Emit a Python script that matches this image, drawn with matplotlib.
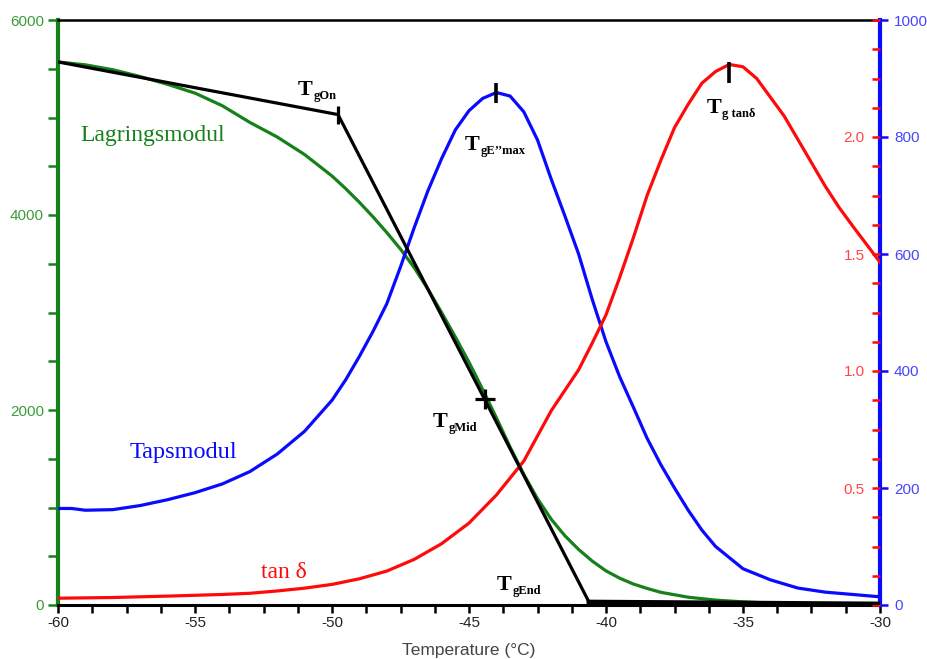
import matplotlib.pyplot as plt
from matplotlib.ticker import MultipleLocator

plt.rcParams['axes.unicode_minus'] = False

# --- data ---
temp_storage = [-60, -59, -58, -57, -56, -55, -54, -53, -52, -51, -50, -49.5, -49,
                -48.5, -48, -47.5, -47, -46.5, -46, -45.5, -45, -44.5, -44, -43.5,
                -43, -42.5, -42, -41.5, -41, -40.5, -40, -39.5, -39, -38.5, -38,
                -37, -36, -35, -34, -33, -32, -31, -30]
storage_mod = [5570, 5540, 5490, 5420, 5340, 5250, 5120, 4950, 4800, 4620, 4400,
               4270, 4130, 3980, 3820, 3650, 3460, 3240, 3000, 2750, 2490, 2210,
               1920, 1620, 1340, 1090, 880, 710, 570, 450, 350, 275, 215, 170,
               130, 80, 50, 32, 20, 12, 8, 5, 3]

temp_loss = [-60, -59.5, -59, -58, -57, -56, -55, -54, -53, -52, -51, -50, -49.5,
             -49, -48.5, -48, -47.5, -47, -46.5, -46, -45.5, -45, -44.5, -44,
             -43.5, -43, -42.5, -42, -41.5, -41, -40.5, -40, -39.5, -39, -38.5,
             -38, -37.5, -37, -36.5, -36, -35, -34, -33, -32, -31, -30]
loss_mod = [165, 165, 162, 163, 170, 180, 192, 207, 228, 258, 297, 350, 385,
            425, 468, 515, 578, 645, 708, 763, 812, 845, 866, 876,
            870, 843, 795, 728, 665, 600, 522, 450, 390, 338, 285,
            240, 200, 162, 128, 100, 62, 43, 29, 22, 18, 14]

temp_tan = [-60, -58, -56, -54, -53, -52, -51, -50, -49, -48, -47, -46, -45,
            -44, -43, -42, -41, -40.5, -40, -39.5, -39, -38.5, -38, -37.5, -37,
            -36.5, -36, -35.5, -35, -34.5, -34, -33.5, -33, -32.5, -32, -31.5,
            -31, -30]
tan_delta = [0.029, 0.032, 0.038, 0.045, 0.05, 0.06, 0.072, 0.088, 0.112, 0.145,
             0.195, 0.262, 0.35, 0.47, 0.615, 0.83, 1.005, 1.12, 1.24, 1.40,
             1.57, 1.75, 1.9, 2.04, 2.14, 2.23, 2.28, 2.31, 2.30, 2.25, 2.17,
             2.09, 1.99, 1.89, 1.79, 1.70, 1.62, 1.465]

# tangent construction on the storage modulus (onset, mid, end)
tangent_t = [-60, -49.78, -40.62, -30]
tangent_v = [5570, 5030, 30, 10]
tg_mid = (-44.42, 2110)

GREEN = '#16801a'
BLUE = '#0a0aff'
RED = '#ff0a0a'

fig = plt.figure(figsize=(9.28, 6.59), dpi=100)
ax = fig.add_axes([58 / 928, 1 - 605 / 659, 822 / 928, 585 / 659])
ax2 = ax.twinx()
ax3 = ax.twinx()

ax.set_xlim(-60, -30)
ax.set_ylim(0, 6000)
ax2.set_ylim(0, 1000)
ax3.set_ylim(0, 2.5)

lw = 2.3
ax.plot(temp_storage, storage_mod, color=GREEN, lw=lw, solid_joinstyle='round')
ax2.plot(temp_loss, loss_mod, color=BLUE, lw=lw, solid_joinstyle='round')
ax3.plot(temp_tan, tan_delta, color=RED, lw=lw, solid_joinstyle='round')

# black tangent lines drawn on top, in storage-modulus units
ax3.plot(tangent_t[:3], tangent_v[:3], color='black', lw=2.3, transform=ax.transData)
ax3.plot(tangent_t[2:], tangent_v[2:], color='black', lw=3.5, transform=ax.transData)
ax3.plot([tangent_t[1]], [tangent_v[1]], marker='|', ms=13, mew=2.3, color='black',
         transform=ax.transData)
ax3.plot([tg_mid[0]], [tg_mid[1]], marker='+', ms=14, mew=2.3, color='black',
         transform=ax.transData)

# peak markers
i_loss = loss_mod.index(max(loss_mod))
ax3.plot([temp_loss[i_loss]], [loss_mod[i_loss]], marker='|', ms=15, mew=2.6,
         color='black', transform=ax2.transData)
i_tan = tan_delta.index(max(tan_delta))
ax3.plot([temp_tan[i_tan]], [tan_delta[i_tan]], marker=[(0, 0.1), (0, -1)], ms=28,
         mew=2.6, color='black')

# --- axes styling ---
for a in (ax, ax2, ax3):
    for s in a.spines.values():
        s.set_visible(False)
ax.spines['bottom'].set_visible(True)
ax.spines['bottom'].set_linewidth(2.2)
ax.spines['top'].set_visible(True)
ax.spines['top'].set_linewidth(1.8)
ax.spines['left'].set_visible(True)
ax.spines['left'].set_color(GREEN)
ax.spines['left'].set_linewidth(3)
ax2.spines['right'].set_visible(True)
ax2.spines['right'].set_color(BLUE)
ax2.spines['right'].set_linewidth(3)

ax.xaxis.set_major_locator(MultipleLocator(5))
ax.xaxis.set_minor_locator(MultipleLocator(1.25))
ax.tick_params(axis='x', which='both', direction='out', length=6, width=1.8,
               color='black', labelcolor='#222222', pad=2, labelsize=11)
ax.yaxis.set_major_locator(MultipleLocator(2000))
ax.yaxis.set_minor_locator(MultipleLocator(500))
ax.tick_params(axis='y', which='both', direction='out', length=7, width=1.8,
               color=GREEN, labelcolor='#3c9c3c', pad=3, labelsize=11)

ax2.yaxis.set_major_locator(MultipleLocator(200))
ax2.tick_params(axis='y', which='both', direction='out', length=6, width=1.8,
                color=BLUE, labelcolor='#4646ff', pad=4, labelsize=11)

# tan delta scale sits on the inside of the right axis
ax3.spines['left'].set_position(('axes', 1.0))
ax3.yaxis.set_ticks_position('left')
ax3.yaxis.set_major_locator(MultipleLocator(0.5))
ax3.yaxis.set_minor_locator(MultipleLocator(0.125))
ax3.tick_params(axis='y', which='both', direction='out', length=6, width=1.8,
                color=RED, labelcolor='#ff4646', pad=5, labelsize=11)
ax3.set_yticks([0.5, 1.0, 1.5, 2.0])
ax3.yaxis.set_major_formatter(plt.FormatStrFormatter('%.1f'))

for lab in (ax.get_xticklabels() + ax.get_yticklabels() + ax2.get_yticklabels()
            + ax3.get_yticklabels()):
    lab.set_family('Liberation Sans')

ax.set_xlabel('Temperature (°C)', family='Liberation Sans', fontsize=12.5,
              color='#444444', labelpad=9)

# --- text labels ---
serif = 'Liberation Serif'
ax.text(-59.2, 4760, 'Lagringsmodul', color=GREEN, family=serif, fontsize=17)
ax.text(-57.37, 1508, 'Tapsmodul', color=BLUE, family=serif, fontsize=17.5)
ax.text(-52.6, 277, 'tan δ', color=RED, family=serif, fontsize=17)


def tg_label(x, y, sub):
    ax3.text(x, y, 'T', family=serif, fontsize=16, fontweight='bold',
             va='baseline', transform=ax.transData)
    ax3.annotate(sub, xy=(x, y), xycoords=ax.transData, xytext=(11, -3),
                 textcoords='offset points', family=serif, fontsize=9,
                 fontweight='bold', va='baseline')


tg_label(-51.24, 5230, 'gOn')
tg_label(-45.15, 4667, 'gE’’max')
tg_label(-46.31, 1826, 'gMid')
tg_label(-43.98, 154, 'gEnd')
tg_label(-36.31, 5046, 'g tanδ')

fig.savefig('out.png', dpi=100)
